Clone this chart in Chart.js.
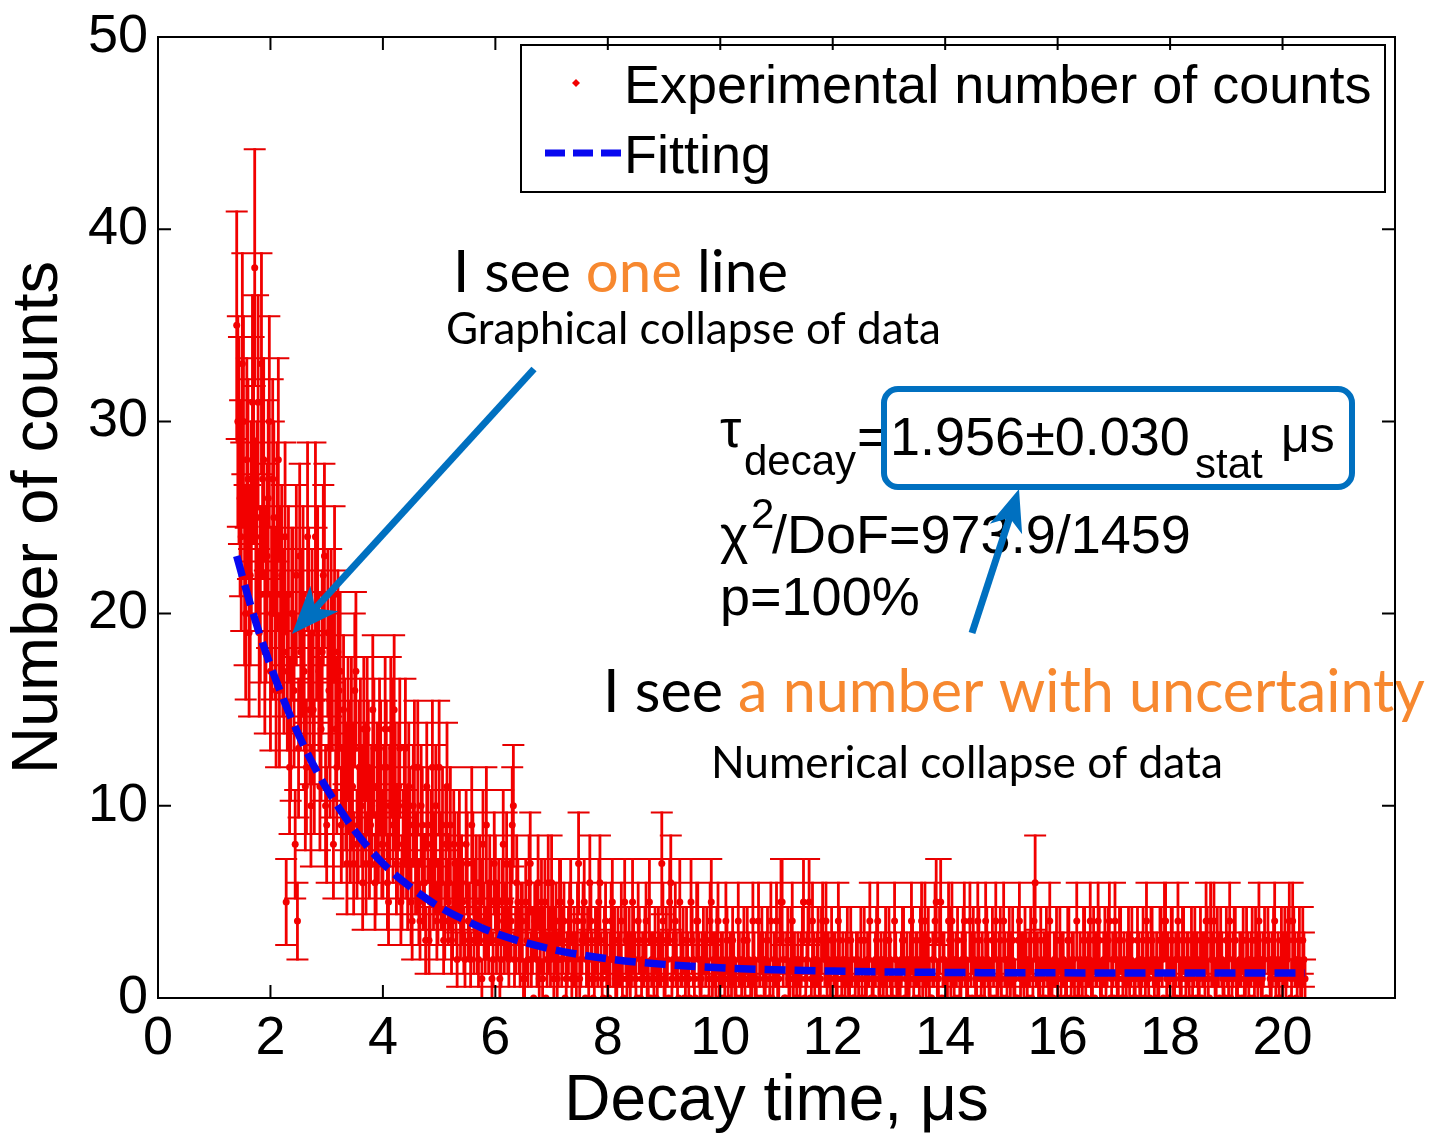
<!DOCTYPE html>
<html>
<head>
<meta charset="utf-8">
<script src="https://cdn.jsdelivr.net/npm/chart.js@4.4.1/dist/chart.umd.min.js"></script>
<style>
html,body{margin:0;padding:0;background:#ffffff;}
canvas{display:block;}
</style>
</head>
<body>
<canvas id="c" width="1431" height="1134"></canvas>
<script>
// ---------------- DATA ----------------
// histogram bins (decay time, microseconds)
const binStart = 1.40;
const binWidth = 0.04;
// experimental number of counts, bins starting at binStart (one row = 1 microsecond)
const counts = [
  35,29,24,30,20,27,22,31,38,25,19,33,28,21,26,17,27,20,24,16,22,18,5,21,14,
  20,8,4,23,19,17,12,20,10,15,24,21,11,18,23,9,16,19,8,14,18,17,10,13,7,
  12,14,7,17,9,13,6,11,14,8,10,13,7,9,12,8,14,6,10,13,15,7,11,5,8,
  13,6,9,4,12,7,5,10,6,3,9,5,12,7,4,12,6,3,8,5,9,4,7,2,8,
  6,3,8,4,2,7,5,3,6,1,4,9,3,5,2,6,4,1,5,3,7,2,4,10,3,
  5,2,4,1,3,6,2,0,4,6,3,1,5,2,3,6,1,4,2,5,3,0,2,4,1,
  3,1,7,2,4,0,3,6,2,1,3,5,2,0,4,1,2,5,3,1,2,4,0,3,2,
  1,5,2,0,3,1,2,4,1,0,2,3,1,2,7,1,3,0,6,2,4,1,5,2,0,
  3,1,5,2,0,4,1,2,0,3,1,5,2,1,4,0,2,1,3,0,1,2,1,4,0,
  2,1,3,0,1,2,1,4,0,2,1,3,1,0,2,4,1,5,2,0,3,1,4,2,1,
  0,2,5,1,3,0,4,1,2,1,3,0,4,2,1,0,2,1,3,1,0,2,1,3,0,
  1,2,0,1,3,1,2,0,1,2,4,1,0,2,1,3,1,0,2,1,1,3,0,2,1,
  4,1,2,0,3,1,4,2,1,0,2,5,1,5,2,0,1,3,4,1,2,0,1,3,2,
  1,4,0,2,1,3,1,0,4,2,1,3,0,1,2,1,4,0,2,1,3,1,0,4,2,
  1,2,0,3,1,6,2,1,0,2,3,1,1,0,2,1,3,2,0,1,3,1,2,0,1,
  2,1,3,0,2,1,3,2,4,1,0,3,2,4,1,0,2,1,3,1,0,2,1,3,1,
  0,2,1,3,1,2,0,3,1,2,1,3,0,4,2,1,3,1,0,2,1,3,1,2,0,
  1,3,2,1,0,2,4,1,4,2,1,3,0,2,1,3,1,0,2,3,1,2,0,1,3,
  1,2,0,3,1,2,1,3,0,2,1,3,1,2,0,1,3,2,4,1,3,0,2,1,3,1
];
// experimental number of counts, bins in between (starting at binStart + binWidth/2)
const countsMid = [
  30,26,33,22,28,19,25,29,24,31,21,27,18,23,30,20,25,16,28,21,19,24,17,12,20,
  16,22,13,18,21,11,24,15,19,12,20,17,14,22,10,19,13,17,21,12,16,9,15,11,14,
  9,11,16,8,12,10,14,7,12,9,15,6,11,13,8,10,12,5,14,9,11,8,13,6,10,
  8,11,5,10,7,12,4,9,6,11,3,8,6,10,5,7,9,4,11,6,3,8,5,7,4,
  5,2,7,4,9,3,6,2,5,8,3,4,6,1,7,3,5,2,8,4,3,5,9,2,6,
  3,4,1,5,2,7,3,4,2,1,5,3,0,6,2,4,3,1,5,2,4,1,3,5,2,
  2,4,1,3,5,2,1,4,0,3,2,6,1,3,2,0,4,2,1,3,2,1,5,1,3,
  2,3,1,4,0,2,3,1,5,2,1,0,3,2,4,1,2,5,1,3,2,0,2,3,1,
  2,0,3,1,4,2,1,3,2,0,4,1,2,3,1,2,0,4,1,2,3,1,0,2,1,
  3,0,2,1,4,1,0,2,3,1,2,0,4,1,2,1,3,5,0,2,1,3,1,0,2,
  1,3,0,2,5,1,2,0,3,1,4,2,1,0,3,2,1,4,0,2,1,3,1,2,0,
  2,1,3,0,1,2,4,1,0,3,1,2,1,3,0,2,1,4,1,0,2,3,1,1,2,
  3,0,2,1,4,2,1,3,0,2,4,1,3,0,2,1,4,1,2,0,3,1,2,4,1,
  0,2,3,1,4,0,2,1,3,1,0,2,4,1,3,0,2,1,3,2,1,0,3,1,2,
  3,1,2,0,4,2,1,3,1,0,2,4,1,2,3,0,1,2,1,3,0,2,1,4,1,
  0,3,1,2,4,1,0,2,3,1,2,1,3,0,2,4,1,3,0,2,1,3,2,0,1,
  3,1,2,0,4,1,3,2,0,1,3,2,4,1,0,3,1,2,4,1,3,0,2,1,3,
  2,0,1,3,2,1,3,0,2,4,1,2,3,1,0,2,4,1,3,1,0,2,3,1,2,
  0,3,1,2,4,1,2,0,3,1,2,4,0,1,3,2,1,3,0,4,2,1,3,1,2
];
// fitted curve
const fitTimes  = [1.4, 1.6, 1.8, 2.0, 2.25, 2.5, 2.75, 3.0, 3.5, 4.0, 4.5, 5.0, 5.5, 6.0, 7.0, 8.0, 9.0, 10.0, 12.0, 14.0, 16.0, 18.0, 20.4];
const fitValues = [23.0, 20.9, 19.0, 17.3, 15.4, 13.7, 12.2, 10.9, 8.7, 7.0, 5.75, 4.75, 4.0, 3.37, 2.54, 2.04, 1.75, 1.57, 1.40, 1.33, 1.31, 1.30, 1.30];
// axes
const xTickValues = [0, 2, 4, 6, 8, 10, 12, 14, 16, 18, 20];
const yTickValues = [0, 10, 20, 30, 40, 50];
const xTitle = 'Decay time, \u03bcs';
const yTitle = 'Number of counts';
const legendLabels = ['Experimental number of counts', 'Fitting'];

// ---------------- STYLE ----------------
const FONT = "'Liberation Sans', Arial, sans-serif";
const ANN = "Lato, 'Open Sans', sans-serif";
const ANN_BLUE = '#0070C0';
const ORANGE = '#F7882F';
const RED = '#F20000';
const BAR_RED = '#E60000';
const FIT_BLUE = '#0808F0';

function fitSize(ctx, text, family, target) {
  ctx.font = '100px ' + family;
  return 100 * target / ctx.measureText(text).width;
}
function drawSegments(ctx, segs, x, y, size, family) {
  ctx.font = size + 'px ' + family;
  ctx.textAlign = 'left';
  ctx.textBaseline = 'alphabetic';
  let cx = x;
  for (const [t, c] of segs) {
    ctx.fillStyle = c;
    ctx.fillText(t, cx, y);
    cx += ctx.measureText(t).width;
  }
  return cx;
}
function txt(ctx, t, x, y, size, family, color) {
  ctx.font = size + 'px ' + family;
  ctx.textAlign = 'left';
  ctx.textBaseline = 'alphabetic';
  ctx.fillStyle = color || '#000';
  ctx.fillText(t, x, y);
  return x + ctx.measureText(t).width;
}
function arrow(ctx, x1, y1, x2, y2, lw, hl, hw, color) {
  const dx = x2 - x1, dy = y2 - y1, L = Math.hypot(dx, dy);
  const ux = dx / L, uy = dy / L, px = -uy, py = ux;
  const bx = x2 - ux * hl, by = y2 - uy * hl;
  const nx = x2 - ux * hl * 0.72, ny = y2 - uy * hl * 0.72;
  ctx.save();
  ctx.strokeStyle = color; ctx.lineWidth = lw; ctx.lineCap = 'butt';
  ctx.beginPath(); ctx.moveTo(x1, y1); ctx.lineTo(nx + ux * 2, ny + uy * 2); ctx.stroke();
  ctx.fillStyle = color;
  ctx.beginPath();
  ctx.moveTo(x2, y2);
  ctx.lineTo(bx + px * hw, by + py * hw);
  ctx.lineTo(nx, ny);
  ctx.lineTo(bx - px * hw, by - py * hw);
  ctx.closePath(); ctx.fill();
  ctx.restore();
}
function roundRect(ctx, x, y, w, h, r) {
  ctx.beginPath();
  ctx.moveTo(x + r, y);
  ctx.lineTo(x + w - r, y); ctx.arcTo(x + w, y, x + w, y + r, r);
  ctx.lineTo(x + w, y + h - r); ctx.arcTo(x + w, y + h, x + w - r, y + h, r);
  ctx.lineTo(x + r, y + h); ctx.arcTo(x, y + h, x, y + h - r, r);
  ctx.lineTo(x, y + r); ctx.arcTo(x, y, x + r, y, r);
  ctx.closePath();
}

// all measured points (time, counts)
const points = [];
counts.forEach((v, i) => points.push({ x: +(binStart + i * binWidth).toFixed(2), y: v }));
countsMid.forEach((v, i) => points.push({ x: +(binStart + binWidth / 2 + i * binWidth).toFixed(2), y: v }));

// error bars (Poisson, sqrt(N))
const errorBars = {
  id: 'errorBars',
  beforeDatasetsDraw(chart) {
    const ctx = chart.ctx, xs = chart.scales.x, ys = chart.scales.y;
    ctx.save();
    ctx.strokeStyle = BAR_RED;
    // caps
    ctx.lineWidth = 2;
    ctx.beginPath();
    points.forEach(p => {
      const e = Math.sqrt(p.y);
      if (e <= 0) return;
      const x = xs.getPixelForValue(p.x);
      const yt = ys.getPixelForValue(p.y + e), yb = ys.getPixelForValue(Math.max(0, p.y - e));
      ctx.moveTo(x - 11, yt); ctx.lineTo(x + 11, yt);
      ctx.moveTo(x - 11, yb); ctx.lineTo(x + 11, yb);
    });
    ctx.stroke();
    // vertical bars
    ctx.strokeStyle = RED;
    ctx.lineWidth = 2.8;
    ctx.beginPath();
    points.forEach(p => {
      const e = Math.sqrt(p.y);
      if (e <= 0) return;
      const x = xs.getPixelForValue(p.x);
      const yt = ys.getPixelForValue(p.y + e), yb = ys.getPixelForValue(Math.max(0, p.y - e));
      ctx.moveTo(x, yt - 1); ctx.lineTo(x, yb + 1);
    });
    ctx.stroke();
    ctx.restore();
  }
};

const overlay = {
  id: 'overlay',
  afterDraw(chart) {
    const ctx = chart.ctx, xs = chart.scales.x, ys = chart.scales.y;
    const a = chart.chartArea;
    ctx.save();

    // legend
    ctx.fillStyle = '#fff';
    ctx.fillRect(521, 45, 864, 147);
    ctx.strokeStyle = '#000'; ctx.lineWidth = 2;
    ctx.strokeRect(521, 45, 864, 147);
    ctx.fillStyle = RED;
    ctx.beginPath(); ctx.moveTo(576, 79); ctx.lineTo(580, 83); ctx.lineTo(576, 87); ctx.lineTo(572, 83); ctx.closePath(); ctx.fill();
    txt(ctx, legendLabels[0], 624, 103, 54, FONT);
    txt(ctx, legendLabels[1], 624, 173, 54, FONT);
    ctx.strokeStyle = FIT_BLUE; ctx.lineWidth = 7; ctx.setLineDash([20, 8]);
    ctx.beginPath(); ctx.moveTo(545, 153); ctx.lineTo(621, 153); ctx.stroke();
    ctx.setLineDash([]);

    // fit result text (MATLAB)
    txt(ctx, '\u03c4', 720, 447, 54, FONT);
    txt(ctx, 'decay', 744, 475, 42, FONT);
    txt(ctx, '=', 857, 455, 54, FONT);
    txt(ctx, '1.956\u00b10.030', 890, 455, 54, FONT);
    txt(ctx, 'stat', 1195, 478, 42, FONT);
    txt(ctx, '\u03bcs', 1281, 452, 50, FONT);
    txt(ctx, '\u03c7', 720, 553, 54, FONT);
    txt(ctx, '2', 751, 528, 42, FONT);
    txt(ctx, '/DoF=973.9/1459', 772, 553, 54, FONT);
    txt(ctx, 'p=100%', 720, 615, 54, FONT);

    // rounded box
    ctx.strokeStyle = ANN_BLUE; ctx.lineWidth = 6;
    roundRect(ctx, 884, 389, 468, 98, 14); ctx.stroke();

    // annotation texts
    let s = fitSize(ctx, 'I see one line', ANN, 335);
    drawSegments(ctx, [['I see ', '#000'], ['one', ORANGE], [' line', '#000']], 453, 292, s, ANN);
    s = fitSize(ctx, 'Graphical collapse of data', ANN, 495);
    drawSegments(ctx, [['Graphical collapse of data', '#000']], 446, 344, s, ANN);
    s = fitSize(ctx, 'I see a number with uncertainty', ANN, 822);
    drawSegments(ctx, [['I see ', '#000'], ['a number with uncertainty', ORANGE]], 603, 712, s, ANN);
    s = fitSize(ctx, 'Numerical collapse of data', ANN, 512);
    drawSegments(ctx, [['Numerical collapse of data', '#000']], 711, 778, s, ANN);

    // arrows
    arrow(ctx, 534, 369, 292, 634, 7, 48, 19, ANN_BLUE);
    arrow(ctx, 972, 633, 1019, 489, 7, 42, 17, ANN_BLUE);

    // frame + inward ticks on all sides
    ctx.strokeStyle = '#000'; ctx.lineWidth = 2;
    ctx.strokeRect(a.left, a.top, a.right - a.left, a.bottom - a.top);
    ctx.beginPath();
    xTickValues.forEach(v => {
      const x = xs.getPixelForValue(v);
      ctx.moveTo(x, a.bottom); ctx.lineTo(x, a.bottom - 13);
      ctx.moveTo(x, a.top); ctx.lineTo(x, a.top + 13);
    });
    yTickValues.forEach(v => {
      const y = ys.getPixelForValue(v);
      ctx.moveTo(a.left, y); ctx.lineTo(a.left + 13, y);
      ctx.moveTo(a.right, y); ctx.lineTo(a.right - 13, y);
    });
    ctx.stroke();
    ctx.restore();
  }
};

new Chart(document.getElementById('c').getContext('2d'), {
  type: 'scatter',
  data: {
    datasets: [
      {
        label: legendLabels[1],
        data: fitTimes.map((t, i) => ({ x: t, y: fitValues[i] })),
        showLine: true,
        borderColor: FIT_BLUE,
        borderWidth: 7.5,
        borderDash: [21, 9],
        pointRadius: 0,
        cubicInterpolationMode: 'monotone',
        fill: false,
        order: 0
      },
      {
        label: legendLabels[0],
        data: points,
        showLine: false,
        pointRadius: 3.5,
        pointBackgroundColor: RED,
        pointBorderWidth: 0,
        order: 1
      }
    ]
  },
  options: {
    responsive: false,
    animation: false,
    devicePixelRatio: 1,
    events: [],
    layout: { padding: { left: 0, top: 32, right: 36, bottom: 0 } },
    plugins: { legend: { display: false }, tooltip: { enabled: false } },
    scales: {
      x: {
        type: 'linear', min: 0, max: 22,
        afterFit(s) { s.height = 136; },
        afterBuildTicks(s) { s.ticks = xTickValues.map(v => ({ value: v })); },
        grid: { display: false, drawTicks: false },
        border: { display: false },
        ticks: { padding: 14, color: '#000', font: { family: FONT, size: 54, lineHeight: 1 }, maxRotation: 0, autoSkip: false },
        title: { display: true, text: xTitle, color: '#000', font: { family: FONT, size: 64, lineHeight: 1 }, padding: { top: 0, bottom: 0 } }
      },
      y: {
        type: 'linear', min: 0, max: 50,
        afterFit(s) { s.width = 158; },
        afterBuildTicks(s) { s.ticks = yTickValues.map(v => ({ value: v })); },
        grid: { display: false, drawTicks: false },
        border: { display: false },
        ticks: { padding: 10, color: '#000', font: { family: FONT, size: 54, lineHeight: 1 } },
        title: { display: true, text: yTitle, color: '#000', font: { family: FONT, size: 65, lineHeight: 1 }, padding: { top: 7, bottom: 0 } }
      }
    }
  },
  plugins: [errorBars, overlay]
});
</script>
</body>
</html>
